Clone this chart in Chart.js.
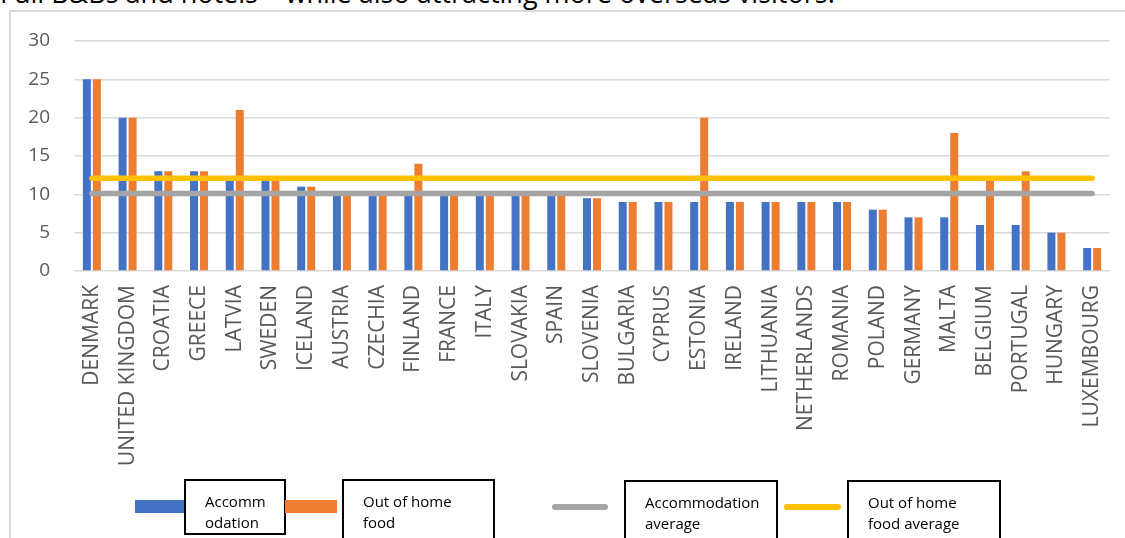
<!DOCTYPE html>
<html>
<head>
<meta charset="utf-8">
<script src="https://cdn.jsdelivr.net/npm/chart.js@4.4.1/dist/chart.umd.min.js"></script>
<style>
    body { margin: 0; background: #fff; font-family: "Open Sans", sans-serif; }
    #wrap { position: relative; width: 1125px; height: 538px; overflow: hidden; }
    #header { position: absolute; left: 0; top: -22px; font-size: 27px; line-height: 30px; color: #000; white-space: nowrap; }
    #frame { position: absolute; left: 9px; top: 10px; width: 1130px; height: 540px; border: 2px solid #d9d9d9; }
    #prodChart { position: absolute; left: 0; top: 0; }
    .leg-swatch { position: absolute; }
    .leg-box { position: absolute; border: 2px solid #000; background: #fff; box-sizing: border-box;
               font-size: 15px; line-height: 21px; color: #000; padding: 10px 0 0 19px; }
</style>
</head>
<body>
<div id="wrap">
    <div id="header">Full B&amp;Bs and hotels – while also attracting more overseas visitors.</div>
    <div id="frame"></div>
    <canvas id="prodChart" width="1125" height="538"></canvas>
    <div id="legend"></div>
</div>
<script>
// --- DATA ---
const categories = ['DENMARK', 'UNITED KINGDOM', 'CROATIA', 'GREECE', 'LATVIA', 'SWEDEN', 'ICELAND', 'AUSTRIA',
    'CZECHIA', 'FINLAND', 'FRANCE', 'ITALY', 'SLOVAKIA', 'SPAIN', 'SLOVENIA', 'BULGARIA', 'CYPRUS', 'ESTONIA',
    'IRELAND', 'LITHUANIA', 'NETHERLANDS', 'ROMANIA', 'POLAND', 'GERMANY', 'MALTA', 'BELGIUM', 'PORTUGAL',
    'HUNGARY', 'LUXEMBOURG'];
const accommodation = [25, 20, 13, 13, 12, 12, 11, 10, 10, 10, 10, 10, 10, 10, 9.5, 9, 9, 9, 9, 9, 9, 9, 8, 7, 7, 6, 6, 5, 3];
const outOfHomeFood = [25, 20, 13, 13, 21, 12, 11, 10, 10, 14, 10, 10, 10, 10, 9.5, 9, 9, 20, 9, 9, 9, 9, 8, 7, 18, 12, 13, 5, 3];
const accommodationAvg = [10.1, 10.1, 10.1, 10.1, 10.1, 10.1, 10.1, 10.1, 10.1, 10.1, 10.1, 10.1, 10.1, 10.1, 10.1,
    10.1, 10.1, 10.1, 10.1, 10.1, 10.1, 10.1, 10.1, 10.1, 10.1, 10.1, 10.1, 10.1, 10.1];
const foodAvg = [12.1, 12.1, 12.1, 12.1, 12.1, 12.1, 12.1, 12.1, 12.1, 12.1, 12.1, 12.1, 12.1, 12.1, 12.1,
    12.1, 12.1, 12.1, 12.1, 12.1, 12.1, 12.1, 12.1, 12.1, 12.1, 12.1, 12.1, 12.1, 12.1];
const yTicks = [0, 5, 10, 15, 20, 25, 30];
const seriesNames = [['Accomm', 'odation'], ['Out of home', 'food'], ['Accommodation', 'average'], ['Out of home', 'food average']];

const corAzul = '#4472C4';
const corLaranja = '#ED7D31';
const corCinza = '#A5A5A5';
const corAmarelo = '#FFC000';

// 1. Grafico
const ctx = document.getElementById('prodChart').getContext('2d');
const meuGrafico = new Chart(ctx, {
    type: 'bar',
    data: {
        labels: categories,
        datasets: [
            { label: seriesNames[0].join(''), data: accommodation, backgroundColor: corAzul, order: 2,
              categoryPercentage: 0.56, barPercentage: 0.8 },
            { label: seriesNames[1].join(' '), data: outOfHomeFood, backgroundColor: corLaranja, order: 2,
              categoryPercentage: 0.56, barPercentage: 0.8 },
            { type: 'line', label: seriesNames[2].join(' '), data: accommodationAvg, borderColor: corCinza,
              borderWidth: 5.5, borderCapStyle: 'round', pointRadius: 0, order: 1 },
            { type: 'line', label: seriesNames[3].join(' '), data: foodAvg, borderColor: corAmarelo,
              borderWidth: 5.5, borderCapStyle: 'round', pointRadius: 0, order: 1 }
        ]
    },
    options: {
        responsive: false,
        animation: false,
        layout: { padding: { left: 10, right: 15, top: 41, bottom: 0 } },
        plugins: { legend: { display: false }, tooltip: { enabled: false } },
        scales: {
            x: {
                grid: { display: false },
                border: { display: false },
                ticks: { color: '#595959', font: { family: 'Open Sans', size: 21 }, minRotation: 90, maxRotation: 90,
                         autoSkip: false, padding: 6 },
                afterFit: (s) => { s.height = 267; }
            },
            y: {
                min: 0,
                max: 30,
                afterBuildTicks: (s) => { s.ticks = yTicks.map(v => ({ value: v })); },
                grid: { color: '#d9d9d9', lineWidth: 1.5, drawTicks: false },
                border: { display: false },
                ticks: { color: '#595959', font: { family: 'Open Sans', size: 19 }, padding: 24 },
                afterFit: (s) => { s.width = 64; }
            }
        }
    }
});

// 2. Legenda (caixas como no original)
const legendItems = [
    { sw: { left: 135, top: 500, width: 49, height: 13, background: corAzul }, box: { left: 184, top: 479, width: 102, height: 56 } },
    { sw: { left: 285, top: 500, width: 52, height: 13, background: corLaranja }, box: { left: 342, top: 479, width: 153, height: 64 } },
    { sw: { left: 552, top: 504, width: 56, height: 6, background: corCinza, borderRadius: '3px' }, box: { left: 624, top: 480, width: 154, height: 64 } },
    { sw: { left: 784, top: 504, width: 57, height: 6, background: corAmarelo, borderRadius: '3px' }, box: { left: 847, top: 480, width: 154, height: 64 } }
];
const legendEl = document.getElementById('legend');
legendItems.forEach((item, i) => {
    const sw = document.createElement('div');
    sw.className = 'leg-swatch';
    sw.style.left = item.sw.left + 'px';
    sw.style.top = item.sw.top + 'px';
    sw.style.width = item.sw.width + 'px';
    sw.style.height = item.sw.height + 'px';
    sw.style.background = item.sw.background;
    if (item.sw.borderRadius) sw.style.borderRadius = item.sw.borderRadius;
    legendEl.appendChild(sw);

    const box = document.createElement('div');
    box.className = 'leg-box';
    box.style.left = item.box.left + 'px';
    box.style.top = item.box.top + 'px';
    box.style.width = item.box.width + 'px';
    box.style.height = item.box.height + 'px';
    box.innerHTML = seriesNames[i].join('<br>');
    legendEl.appendChild(box);
});
</script>
</body>
</html>
